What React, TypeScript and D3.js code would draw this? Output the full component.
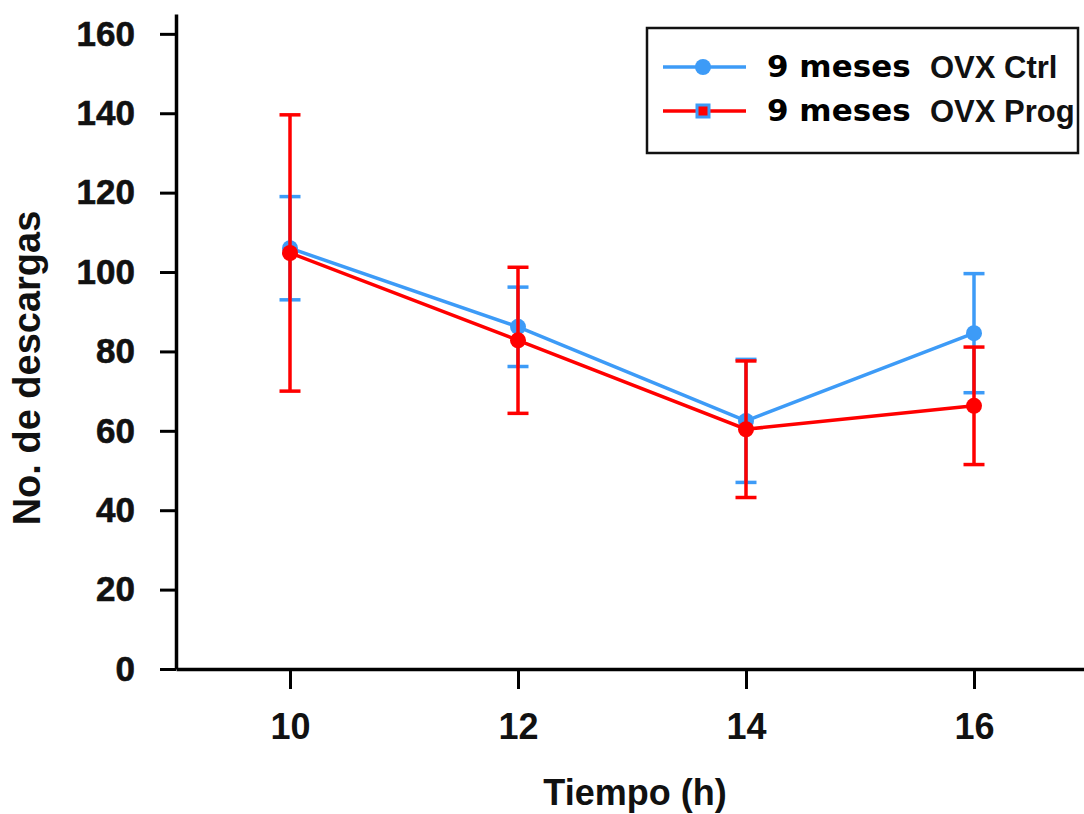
import React, { useRef, useEffect } from 'react';
import * as d3 from 'd3';

// values
const timePoints = [10, 12, 14, 16];
const xTicks = [10, 12, 14, 16];
const yTicks = [0, 20, 40, 60, 80, 100, 120, 140, 160];

const ctrlMean = [106, 86.2, 62.5, 84.6];
const ctrlErr = [13, 10, 15.5, 15];
const progMean = [104.8, 82.8, 60.4, 66.3];
const progErr = [34.8, 18.4, 17.2, 14.8];

const legendLabels = ['9 meses', '9 meses'];
const legendGroups = ['OVX Ctrl', 'OVX Prog'];

const BLUE = '#3d9bf7';
const RED = '#ff0000';

const W = 1084;
const H = 814;

const App = () => {
  const ref = useRef<SVGSVGElement>(null);

  useEffect(() => {
    const svg = d3.select(ref.current);
    svg.selectAll('*').remove();

    const x = d3.scaleLinear().domain([9, 17]).range([176, 1088]);
    const y = d3.scaleLinear().domain([0, 165]).range([669, 14]);

    svg.append('rect').attr('width', W).attr('height', H).attr('fill', '#fff');

    // axes
    const yAxis = d3.axisLeft(y).tickValues(yTicks).tickSize(16).tickSizeOuter(0).tickPadding(25);
    const gy = svg.append('g').attr('transform', 'translate(176,0)').call(yAxis);
    gy.select('.domain').attr('stroke-width', 3.5).attr('stroke', '#000');
    gy.selectAll('.tick line').attr('stroke-width', 3).attr('stroke', '#000');
    gy.selectAll('.tick text')
      .attr('font-family', '"Liberation Sans", Arial, sans-serif')
      .attr('font-weight', 'bold')
      .attr('font-size', 35)
      .attr('fill', '#111')
      .attr('stroke', '#111')
      .attr('stroke-width', 0.6);

    const xAxis = d3.axisBottom(x).tickValues(xTicks).tickSize(20).tickSizeOuter(0).tickPadding(24);
    const gx = svg.append('g').attr('transform', 'translate(0,669)').call(xAxis);
    gx.select('.domain').attr('stroke-width', 3.5).attr('stroke', '#000');
    gx.selectAll('.tick line').attr('stroke-width', 3).attr('stroke', '#000');
    gx.selectAll('.tick text')
      .attr('font-family', '"Liberation Sans", Arial, sans-serif')
      .attr('font-weight', 'bold')
      .attr('font-size', 36)
      .attr('fill', '#111');

    // axis titles
    svg.append('text')
      .attr('transform', 'translate(40,368) rotate(-90)')
      .attr('text-anchor', 'middle')
      .attr('font-family', '"Liberation Sans", Arial, sans-serif')
      .attr('font-weight', 'bold')
      .attr('font-size', 38)
      .attr('fill', '#111')
      .text('No. de descargas');

    svg.append('text')
      .attr('x', 635)
      .attr('y', 805)
      .attr('text-anchor', 'middle')
      .attr('font-family', '"Liberation Sans", Arial, sans-serif')
      .attr('font-weight', 'bold')
      .attr('font-size', 36)
      .attr('fill', '#111')
      .text('Tiempo (h)');

    const series = [
      { mean: ctrlMean, err: ctrlErr, color: BLUE },
      { mean: progMean, err: progErr, color: RED },
    ];

    const line = d3.line<number>()
      .x((_, i) => x(timePoints[i]))
      .y(d => y(d));

    series.forEach(s => {
      const g = svg.append('g');
      g.append('path')
        .datum(s.mean)
        .attr('fill', 'none')
        .attr('stroke', s.color)
        .attr('stroke-width', 3.5)
        .attr('d', line);

      s.mean.forEach((m, i) => {
        const cx = x(timePoints[i]);
        const hi = y(m + s.err[i]);
        const lo = y(m - s.err[i]);
        g.append('line')
          .attr('x1', cx).attr('x2', cx).attr('y1', hi).attr('y2', lo)
          .attr('stroke', s.color).attr('stroke-width', 3.5);
        [hi, lo].forEach(cy => {
          g.append('line')
            .attr('x1', cx - 10.5).attr('x2', cx + 10.5).attr('y1', cy).attr('y2', cy)
            .attr('stroke', s.color).attr('stroke-width', 3.5);
        });
        g.append('circle')
          .attr('cx', cx).attr('cy', y(m)).attr('r', 8)
          .attr('fill', s.color);
      });
    });

    // legend
    const lg = svg.append('g');
    lg.append('rect')
      .attr('x', 647).attr('y', 28).attr('width', 431).attr('height', 125)
      .attr('fill', '#fff').attr('stroke', '#111').attr('stroke-width', 2.5);

    const rows = [67, 111];
    rows.forEach((ly, i) => {
      lg.append('line')
        .attr('x1', 663).attr('x2', 746).attr('y1', ly).attr('y2', ly)
        .attr('stroke', i === 0 ? BLUE : RED).attr('stroke-width', 3.5);
      if (i === 0) {
        lg.append('circle').attr('cx', 703).attr('cy', ly).attr('r', 8).attr('fill', BLUE);
      } else {
        lg.append('rect')
          .attr('x', 697).attr('y', ly - 6).attr('width', 12).attr('height', 12)
          .attr('fill', RED).attr('stroke', BLUE).attr('stroke-width', 3);
      }
      lg.append('text')
        .attr('x', 767).attr('y', ly + 10)
        .attr('font-family', '"DejaVu Sans", Verdana, sans-serif')
        .attr('font-weight', 'bold')
        .attr('font-size', 31)
        .attr('fill', '#000')
        .text(legendLabels[i]);
      lg.append('text')
        .attr('x', 930).attr('y', ly + 11)
        .attr('font-family', '"Liberation Sans", Arial, sans-serif')
        .attr('font-weight', 'bold')
        .attr('font-size', 31)
        .attr('fill', '#111')
        .text(legendGroups[i]);
    });
  }, []);

  return (
    <svg
      ref={ref}
      width={W}
      height={H}
      style={{ position: 'absolute', left: 0, top: 0, display: 'block' }}
    />
  );
};

export default App;
